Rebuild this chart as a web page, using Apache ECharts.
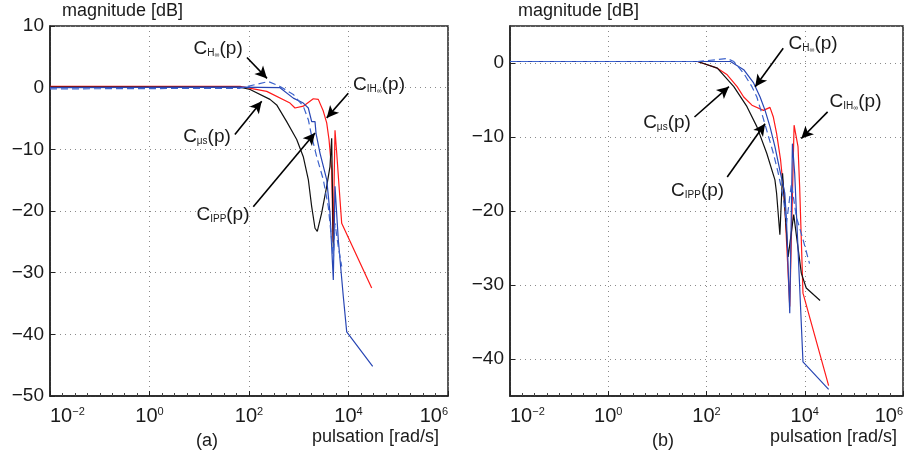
<!DOCTYPE html>
<html><head><meta charset="utf-8">
<script src="https://cdn.jsdelivr.net/npm/echarts@6/dist/echarts.min.js"></script>
<style>html,body{margin:0;padding:0;background:#fff}#c{width:906px;height:458px}</style>
</head><body><div id="c"></div>
<script>
// tick definitions
const xTickExps = [-2, 0, 2, 4, 6];
const yTicksA = [10, 0, -10, -20, -30, -40, -50];
const yTicksB = [0, -10, -20, -30, -40];

// ---- panel (a): pulsation [rad/s] and magnitude [dB]
const aRedW  = [0.01, 66, 227, 667, 841, 1233, 1959, 2471, 3113, 3646, 4057, 4592, 4900, 5357, 5795, 6535, 7300, 29240];
const aRedDb = [0.2, 0.2, -0.6, -2.5, -3.3, -3.0, -1.8, -1.9, -3.8, -5.7, -8.4, -13.3, -25.0, -6.9, -10.6, -16.6, -22.0, -32.5];
const aBlkW  = [0.01, 66, 105, 264, 360, 572, 910, 1233, 1557, 1820, 2123, 2358, 2891, 3646, 4246, 4592, 4950];
const aBlkDb = [0.1, 0.1, -0.3, -1.9, -2.8, -5.5, -8.4, -11.2, -14.9, -19.3, -22.8, -23.3, -20.3, -16.0, -12.8, -8.2, -26.0];
const aBluW  = [0.01, 66, 420, 777, 1233, 1557, 1820, 2123, 2224, 2671, 3646, 4246, 4950, 5357, 6237, 7870, 9204, 30620];
const aBluDb = [0, 0.1, 0, -1.7, -2.5, -3.3, -5.5, -5.5, -7.4, -10.6, -14.9, -20.3, -31.2, -16.0, -24.7, -33.9, -39.6, -45.2];
const aDshW  = [0.01, 66, 244, 420, 777, 1233, 1557, 1820, 2294, 3113, 3926, 4592, 4950, 5357, 6237, 7300];
const aDshDb = [-0.2, -0.1, 1.0, 0.2, -1.1, -3.0, -5.2, -7.9, -11.2, -14.9, -19.3, -24.7, -27.9, -22.0, -25.8, -29.0];

// ---- panel (b)
const bRedW  = [0.01, 66, 166, 264, 420, 572, 841, 1444, 1959, 2294, 2671, 3221, 3646, 3926, 4950, 6067, 7295, 7870, 9204, 30620];
const bRedDb = [0.2, 0.2, -0.7, -1.6, -3.2, -4.6, -5.7, -6.4, -6.0, -7.3, -9.5, -13.1, -16.7, -19.4, -32.9, -8.4, -11.3, -16.7, -31.1, -43.6];
const bBlkW  = [0.01, 66, 166, 360, 667, 1059, 1683, 2471, 2671, 3117, 3533, 4592, 5957, 8511, 10720, 20500];
const bBlkDb = [0.2, 0.2, -0.7, -3.2, -5.9, -8.6, -12.2, -15.8, -17.6, -23.2, -14.9, -26.2, -20.5, -28.4, -30.4, -32.1];
const bBluW  = [0.01, 66, 308, 572, 910, 1233, 1557, 1959, 2471, 3117, 3926, 4246, 4950, 5610, 6237, 9204, 30620];
const bBluDb = [0.2, 0.2, 0.2, -0.9, -2.7, -4.6, -6.4, -8.6, -11.3, -14.5, -17.6, -21.2, -33.8, -10.9, -14.9, -40.4, -44.1];
const bDshW  = [0.01, 66, 264, 360, 572, 841, 1059, 1336, 1683, 2294, 2891, 3646, 4246, 5355, 6745, 8913, 12500];
const bDshDb = [0.2, 0.2, 0.6, 0.2, -1.4, -3.2, -4.6, -6.8, -9.1, -12.2, -14.9, -18.1, -21.7, -16.3, -20.8, -23.5, -27.1];

// annotations: label, text anchor [rad/s, dB], arrow from, arrow to
const annLabels = ['C{s|H}{ss|∞}(p)', 'C{s|μs}(p)', 'C{s|IPP}(p)', 'C{s|IH}{ss|∞}(p)'];
const annTextA = [[24, 6.3], [14.3, -7.95], [30, -20.6], [41000, 0.5]];
const annFromA = [[91, 4.9], [52, -7.6], [122, -19.3], [9900, -0.9]];
const annToA   = [[230, 1.5], [180, -2.2], [2123, -7.35], [3646, -4.9]];
const annTextB = [[14800, 2.6], [15.7, -8.1], [66, -17.2], [108000, -5.3]];
const annFromB = [[3646, 2.0], [57, -7.3], [264, -15.4], [29200, -6.6]];
const annToB   = [[980, -3.2], [286, -3.2], [1557, -8.2], [8500, -10.2]];

const FONT = 'Liberation Sans, Arial, Helvetica, sans-serif';
const TXT = '#1a1a1a';
const RED = '#ff1a1a', BLK = '#111111', BLU = '#2846b4', DSH = '#3d63cc';

const lg = v => Math.log10(v);
const pts = (w, d) => w.map((x, i) => [lg(x), d[i]]);
const pt = p => [lg(p[0]), p[1]];
const minus = v => (v < 0 ? '\u2212' + Math.abs(v) : String(v));

function xAxisFor(gi) {
  return {
    type: 'value', gridIndex: gi, min: xTickExps[0], max: xTickExps[xTickExps.length - 1], interval: 2,
    axisLine: { show: true, onZero: false, lineStyle: { color: '#222', width: 1.5 } },
    axisTick: { show: true, inside: true, length: 5, lineStyle: { color: '#222' } },
    minorTick: { show: true, splitNumber: 8, length: 3, lineStyle: { color: '#444' } },
    splitLine: { show: true, lineStyle: { color: '#8a8a8a', type: [1, 4], width: 1 } },
    axisLabel: {
      margin: 10, alignMinLabel: 'left', alignMaxLabel: 'right',
      formatter: v => '{b|10}{s|' + minus(v) + '}',
      rich: {
        b: { fontSize: 20, fontFamily: FONT, color: TXT, lineHeight: 20 },
        s: { fontSize: 11, fontFamily: FONT, color: TXT, verticalAlign: 'top', lineHeight: 8 }
      }
    }
  };
}

function yAxisBase(gi) {
  return {
    type: 'value', gridIndex: gi,
    axisLine: { show: true, onZero: false, lineStyle: { color: '#222', width: 1.5 } },
    axisTick: { show: true, inside: true, length: 5, lineStyle: { color: '#222' } },
    splitLine: { show: true, lineStyle: { color: '#8a8a8a', type: [1, 4], width: 1 } }
  };
}

const yA = Object.assign(yAxisBase(0), {
  min: yTicksA[yTicksA.length - 1], max: yTicksA[0], interval: 10,
  axisLabel: { margin: 6, fontSize: 19, fontFamily: FONT, color: TXT, formatter: v => minus(v) }
});
const yB = Object.assign(yAxisBase(1), {
  min: -45, max: 5, splitNumber: 5, minInterval: 10, maxInterval: 10,
  axisLabel: {
    margin: 6, fontSize: 19, fontFamily: FONT, color: TXT, showMinLabel: false, showMaxLabel: false,
    formatter: v => (yTicksB.indexOf(v) >= 0 ? minus(v) : '')
  }
});

const option = {
  animation: false,
  backgroundColor: '#fff',
  grid: [
    { left: 50, top: 26, width: 398, height: 370, show: true, borderColor: '#222', borderWidth: 1.5, containLabel: false },
    { left: 510, top: 26, width: 398, height: 370, show: true, borderColor: '#222', borderWidth: 1.5, containLabel: false }
  ],
  xAxis: [xAxisFor(0), xAxisFor(1)],
  yAxis: [yA, yB],
  graphic: [
    { type: 'text', left: 62, top: 2, style: { text: 'magnitude [dB]', fontSize: 18, fontFamily: FONT, fill: TXT } },
    { type: 'text', left: 518, top: 2, style: { text: 'magnitude [dB]', fontSize: 18, fontFamily: FONT, fill: TXT } },
    { type: 'text', left: 312, top: 428, style: { text: 'pulsation [rad/s]', fontSize: 18, fontFamily: FONT, fill: TXT } },
    { type: 'text', left: 770, top: 428, style: { text: 'pulsation [rad/s]', fontSize: 18, fontFamily: FONT, fill: TXT } },
    { type: 'text', left: 196, top: 432, style: { text: '(a)', fontSize: 18, fontFamily: FONT, fill: TXT } },
    { type: 'text', left: 652, top: 432, style: { text: '(b)', fontSize: 18, fontFamily: FONT, fill: TXT } }
  ],
  series: []
};

function lineSeries(gi, w, d, color, dashed) {
  return {
    type: 'line', xAxisIndex: gi, yAxisIndex: gi, data: pts(w, d), symbol: 'none', silent: true,
    lineStyle: { color: color, width: 1.2, type: dashed ? [7, 4] : 'solid' }, z: dashed ? 4 : 3
  };
}

function annSeries(gi, texts, froms, tos) {
  return {
    type: 'line', xAxisIndex: gi, yAxisIndex: gi, data: [], symbol: 'none', silent: true, z: 6,
    markLine: {
      silent: true, animation: false, symbol: ['none', 'arrow'], symbolSize: [9, 12],
      precision: 6,
      label: { show: false },
      itemStyle: { color: '#000' },
      lineStyle: { color: '#000', width: 1.6, type: 'solid' },
      emphasis: { disabled: true },
      data: froms.map((f, i) => [{ coord: pt(f) }, { coord: pt(tos[i]) }])
    },
    markPoint: {
      silent: true, animation: false, symbol: 'circle', symbolSize: 0,
      itemStyle: { color: 'transparent' },
      data: texts.map((t, i) => ({
        coord: pt(t),
        label: {
          show: true, position: 'inside', formatter: () => annLabels[i],
          fontSize: 19, fontFamily: FONT, color: TXT,
          rich: {
            s: { fontSize: 10, fontFamily: FONT, color: TXT, verticalAlign: 'bottom', lineHeight: 4 },
            ss: { fontSize: 7, fontFamily: FONT, color: TXT, verticalAlign: 'bottom', lineHeight: 2 }
          }
        }
      }))
    }
  };
}

option.series.push(
  lineSeries(0, aRedW, aRedDb, RED, false),
  lineSeries(0, aBlkW, aBlkDb, BLK, false),
  lineSeries(0, aBluW, aBluDb, BLU, false),
  lineSeries(0, aDshW, aDshDb, DSH, true),
  lineSeries(1, bRedW, bRedDb, RED, false),
  lineSeries(1, bBlkW, bBlkDb, BLK, false),
  lineSeries(1, bBluW, bBluDb, BLU, false),
  lineSeries(1, bDshW, bDshDb, DSH, true),
  annSeries(0, annTextA, annFromA, annToA),
  annSeries(1, annTextB, annFromB, annToB)
);

const chart = echarts.init(document.getElementById('c'), null, { renderer: 'canvas' });
chart.setOption(option);
</script></body></html>
